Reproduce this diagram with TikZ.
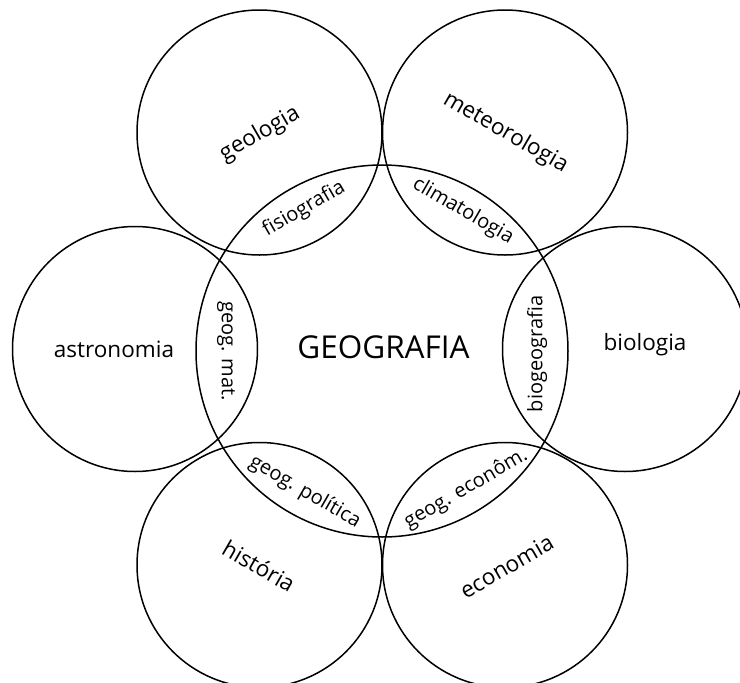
\documentclass[tikz,border=0pt]{standalone}
\usepackage{fontspec}
\setmainfont{Open Sans}
\begin{document}
\begin{tikzpicture}[x=1pt,y=-1pt]
\tikzset{
  ring/.style={circle, draw, line width=1.5pt, inner sep=0pt, minimum size=245pt},
  core/.style={circle, draw, line width=1.5pt, inner sep=0pt, minimum size=372pt},
  biglbl/.style={inner sep=0pt, font=\fontsize{22.5}{26}\selectfont},
  smalllbl/.style={inner sep=0pt, font=\fontsize{20}{24}\selectfont},
  titlelbl/.style={inner sep=0pt, font=\fontsize{31.5}{36}\selectfont}
}
\useasboundingbox (0,0) rectangle (740,683);
% circles
\node[core] (geo) at (382,351) {};
\node[ring] (geol) at (259.5,132.5) {};
\node[ring] (met) at (505,132.5) {};
\node[ring] (ast) at (135,349) {};
\node[ring] (bio) at (625,349) {};
\node[ring] (his) at (259.5,565) {};
\node[ring] (eco) at (505,565) {};
% main labels
\node[titlelbl] (tgeo) at (383.5,347.5) {GEOGRAFIA};
\node[biglbl, rotate=30] (tgeol) at (260,134) {geologia};
\node[biglbl, rotate=-30] (tmet) at (505.5,133) {meteorologia};
\node[biglbl] (tast) at (114,349) {astronomia};
\node[biglbl] (tbio) at (645,345) {biologia};
\node[biglbl, rotate=-30] (this) at (259,566) {história};
\node[biglbl, rotate=30] (teco) at (506.5,566.5) {economia};
% intersection labels
\node[smalllbl, rotate=30] (tfis) at (304,209) {fisiografia};
\node[smalllbl, rotate=-30] (tcli) at (463,211) {climatologia};
\node[smalllbl, rotate=90] (tbiog) at (537,354) {biogeografia};
\node[smalllbl, rotate=-90] (tmat) at (226,351) {geog. mat.};
\node[smalllbl, rotate=-30] (tpol) at (305,492) {geog. política};
\node[smalllbl, rotate=30] (tecon) at (466,489) {geog. econôm.};
\end{tikzpicture}
\end{document}
